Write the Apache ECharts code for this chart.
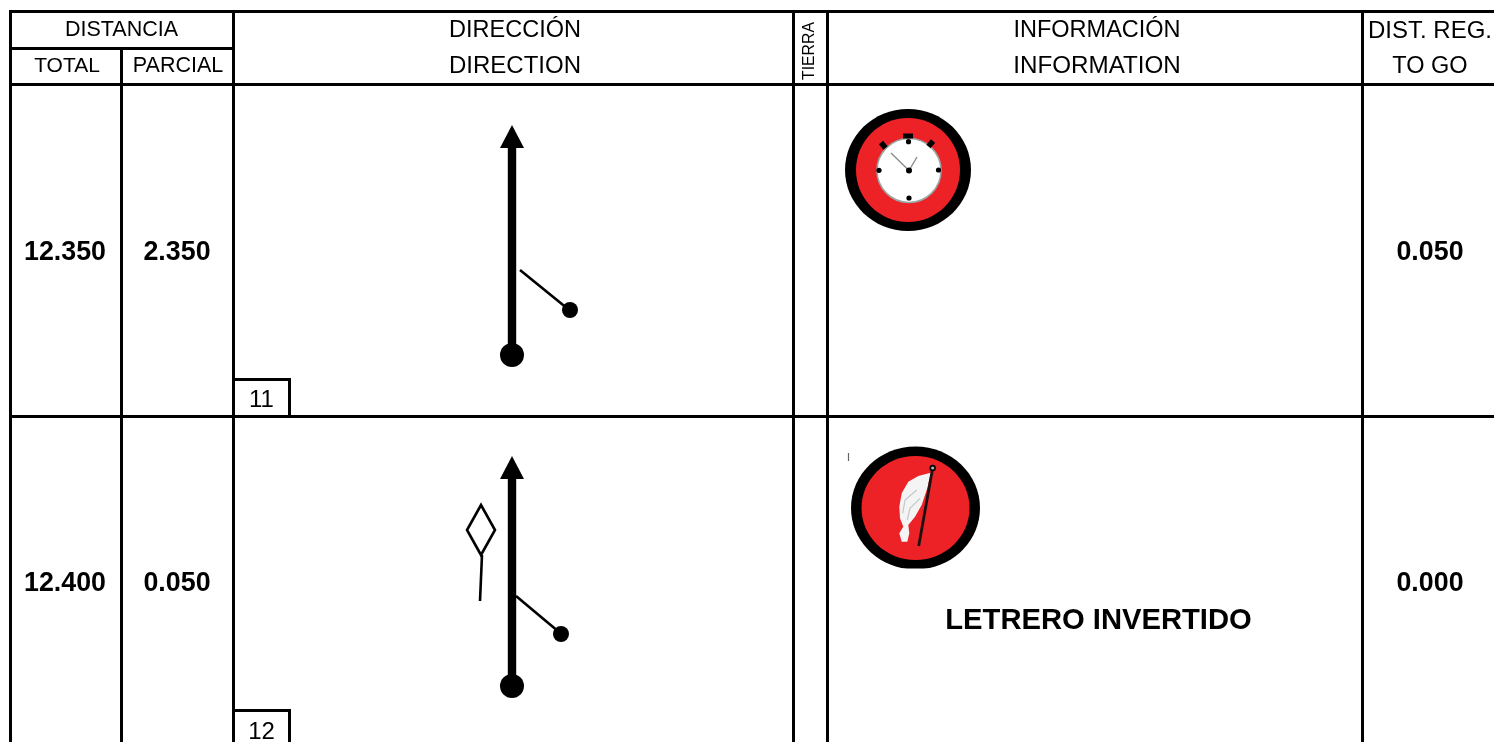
<!DOCTYPE html>
<html>
<head>
<meta charset="utf-8">
<style>html,body{margin:0;padding:0;background:#fff}#main{width:1494px;height:742px}</style>
</head>
<body>
<div id="main"></div>
<script src="https://cdn.jsdelivr.net/npm/echarts@6/dist/echarts.min.js"></script>
<script>
// table content
var headerTop = ['DISTANCIA', 'DIRECCIÓN', 'INFORMACIÓN', 'DIST. REG.'];
var headerSub = ['TOTAL', 'PARCIAL', 'DIRECTION', 'INFORMATION', 'TO GO'];
var headerSide = ['TIERRA'];
var totals = ['12.350', '12.400'];
var partials = ['2.350', '0.050'];
var toGo = ['0.050', '0.000'];
var rowNumbers = ['11', '12'];
var notes = ['LETRERO INVERTIDO'];

// layout, in axis units (the axes span the page 1:1)
var FONT = '"Liberation Sans", Arial, sans-serif';
var colX = { left: 10.5, total: 121.5, parcial: 233.5, dir: 793.5, tierra: 827.5, info: 1362.5, end: 1494 };
var rowY = { top: 11.5, sub: 48.5, head: 84.5, row1: 416.5, end: 742 };
var boxRight = 289.5;
var boxTop = [379.5, 710.5];
var rowTextY = [253, 584];
var rowNumY = [400, 732];

var tableRules = [
    [colX.left, rowY.top, colX.end, rowY.top],
    [colX.left, rowY.sub, colX.parcial, rowY.sub],
    [colX.left, rowY.head, colX.end, rowY.head],
    [colX.left, rowY.row1, colX.end, rowY.row1],
    [colX.left, rowY.top, colX.left, rowY.end],
    [colX.total, rowY.sub, colX.total, rowY.end],
    [colX.parcial, rowY.top, colX.parcial, rowY.end],
    [colX.dir, rowY.top, colX.dir, rowY.end],
    [colX.tierra, rowY.top, colX.tierra, rowY.end],
    [colX.info, rowY.top, colX.info, rowY.end],
    [colX.parcial, boxTop[0], boxRight, boxTop[0]],
    [boxRight, boxTop[0], boxRight, rowY.row1],
    [colX.parcial, boxTop[1], boxRight, boxTop[1]],
    [boxRight, boxTop[1], boxRight, rowY.end]
];

var shapes = [];
function line(x0, y0, x1, y1, w, color) { shapes.push({ t: 'line', p: [x0, y0, x1, y1], w: w, c: color || '#000' }); }
function dot(x, y, r, color) { shapes.push({ t: 'dot', p: [x, y, r], c: color || '#000' }); }
function oval(cx, cy, rx, ry, color, stroke, clipY) { shapes.push({ t: 'oval', p: [cx, cy, rx, ry], c: color, s: stroke, clipY: clipY }); }
function poly(pts, color, smooth) { shapes.push({ t: 'poly', pts: pts, c: color, smooth: smooth }); }
function path(pts, w, color, closed) { shapes.push({ t: 'path', pts: pts, w: w, c: color, closed: closed }); }

// direction arrows
function arrow(tipY, baseY, dotY) {
    line(512, baseY - 1, 512, dotY, 8.4);
    poly([[512, tipY], [524, baseY], [500, baseY]], '#000');
    dot(512, dotY, 12);
}
arrow(125, 148, 355);
line(520, 270, 568, 309, 2.6);
dot(570, 310, 8);
arrow(456, 479, 686);
line(516, 596, 559, 632, 2.6);
dot(561, 634, 8);
path([[481, 505], [495, 530], [481, 555], [467, 530]], 2.6, '#000', true);
line(482, 555, 480, 601, 2.6);

// stopwatch icon
oval(908, 170, 63, 61, '#000');
oval(908, 170, 52, 52, '#ed2227');
oval(909, 170.5, 32, 32, '#fff', '#9aa5a5');
line(903, 136, 913, 136, 5);
line(881, 142.5, 885.5, 148, 5.5);
line(933, 141, 928.5, 146.5, 5.5);
dot(908.5, 141.7, 2.6);
dot(938.5, 170, 2.6);
dot(909, 198, 2.6);
dot(879, 170.3, 2.6);
line(909, 170.5, 891, 153, 1.4, '#8c8c8c');
line(909, 170.5, 917, 157, 1.4, '#8c8c8c');
dot(909, 170.5, 3);

// flag icon
oval(915.5, 508, 64.5, 61.5, '#000', null, 568.5);
oval(915.5, 508, 54, 52, '#ed2227');
poly([[930.7, 472.7], [918.3, 476], [908.3, 481.7], [901.7, 493.3], [899.3, 506.7], [900, 518.3], [903.3, 526.7], [899.3, 533.3],
    [901.7, 541.7], [907.3, 541.7], [909.3, 533.3], [908.3, 525], [915, 516.7], [921.7, 505], [927.3, 488.3]], '#f4f4f4');
path([[916.7, 490], [905, 500], [902.7, 513.3]], 1.2, '#c4c8c8');
path([[920, 498.3], [910, 508.3], [907.3, 520]], 1.2, '#c4c8c8');
line(932.7, 468, 918.7, 546, 2.8, '#1c1010');
dot(932.7, 468, 3.2, '#000');
dot(932.7, 468, 1.6, '#a9b5b0');
line(848.5, 453, 848.5, 461, 1.2, '#666');

// text items built from the arrays above
var texts = [];
function label(str, x, y, size, bold, rot) { texts.push({ str: str, x: x, y: y, size: size, bold: bold, rot: rot }); }
label(headerTop[0], 121.5, 30, 21.5);
label(headerSub[0], 67, 66, 21);
label(headerSub[1], 178, 66, 21.5);
label(headerTop[1], 515, 31, 23.5);
label(headerSub[2], 515, 66, 24);
label(headerSide[0], 810, 51, 15.8, false, Math.PI / 2);
label(headerTop[2], 1097, 31, 23.5);
label(headerSub[3], 1097, 66, 24.2);
label(headerTop[3], 1430, 31, 24);
label(headerSub[4], 1430, 67, 23.5);
totals.forEach(function (v, i) { label(v, 65, rowTextY[i], 26.8, true); });
partials.forEach(function (v, i) { label(v, 177, rowTextY[i], 26.8, true); });
toGo.forEach(function (v, i) { label(v, 1430, rowTextY[i], 26.8, true); });
rowNumbers.forEach(function (v, i) { label(v, 261.5, rowNumY[i], 24); });
label(notes[0], 1098.5, 621, 29.2, true);

function pts(api, list) {
    return list.map(function (p) { return api.coord(p); });
}
function renderShape(params, api) {
    var d = shapes[params.dataIndex], a, b;
    if (d.t === 'line') {
        a = api.coord([d.p[0], d.p[1]]); b = api.coord([d.p[2], d.p[3]]);
        return { type: 'line', shape: { x1: a[0], y1: a[1], x2: b[0], y2: b[1] }, style: { stroke: d.c, lineWidth: d.w, fill: null } };
    }
    if (d.t === 'dot') {
        a = api.coord([d.p[0], d.p[1]]);
        return { type: 'circle', shape: { cx: a[0], cy: a[1], r: d.p[2] }, style: { fill: d.c } };
    }
    if (d.t === 'oval') {
        a = api.coord([d.p[0], d.p[1]]);
        var el = { type: 'ellipse', shape: { cx: a[0], cy: a[1], rx: d.p[2], ry: d.p[3] }, style: { fill: d.c, stroke: d.s || null, lineWidth: d.s ? 1.6 : 0 } };
        if (d.clipY) {
            // only the bottom of the flag picture is cut off
            var top = a[1] - d.p[3] - 3;
            el.clipPath = { type: 'rect', shape: { x: a[0] - d.p[2] - 3, y: top, width: d.p[2] * 2 + 6, height: api.coord([0, d.clipY])[1] - top } };
        }
        return el;
    }
    if (d.t === 'poly') {
        return { type: 'polygon', shape: { points: pts(api, d.pts) }, style: { fill: d.c } };
    }
    return {
        type: d.closed ? 'polygon' : 'polyline',
        shape: { points: pts(api, d.pts) },
        style: { fill: null, stroke: d.c, lineWidth: d.w, lineJoin: 'miter' }
    };
}

var myChart = echarts.init(document.getElementById('main'), null, { renderer: 'canvas' });
myChart.setOption({
    animation: false,
    backgroundColor: '#fff',
    tooltip: { show: false },
    grid: { left: 0, right: 0, top: 0, bottom: 0 },
    xAxis: { type: 'value', min: 0, max: 1494, show: false },
    yAxis: { type: 'value', min: 0, max: 742, inverse: true, show: false },
    series: [
        {
            name: 'rules',
            type: 'custom',
            silent: true,
            clip: true,
            data: tableRules,
            renderItem: function (params, api) {
                var r = tableRules[params.dataIndex];
                var a = api.coord([r[0], r[1]]), b = api.coord([r[2], r[3]]);
                return { type: 'line', shape: { x1: a[0], y1: a[1], x2: b[0], y2: b[1] }, style: { stroke: '#000', lineWidth: 3, lineCap: 'square' } };
            }
        },
        {
            name: 'symbols',
            type: 'custom',
            silent: true,
            clip: true,
            z: 3,
            data: shapes.map(function (s, i) { return [i]; }),
            renderItem: renderShape
        },
        {
            name: 'texts',
            type: 'custom',
            silent: true,
            z: 4,
            data: texts.map(function (s, i) { return [i]; }),
            renderItem: function (params, api) {
                var t = texts[params.dataIndex];
                var a = api.coord([t.x, t.y]);
                return {
                    type: 'text',
                    x: a[0], y: a[1],
                    rotation: t.rot || 0,
                    style: {
                        text: t.str, x: 0, y: 0, fill: '#000', align: 'center', verticalAlign: 'middle',
                        font: (t.bold ? 'bold ' : '') + t.size + 'px ' + FONT
                    }
                };
            }
        }
    ]
});
</script>
</body>
</html>
